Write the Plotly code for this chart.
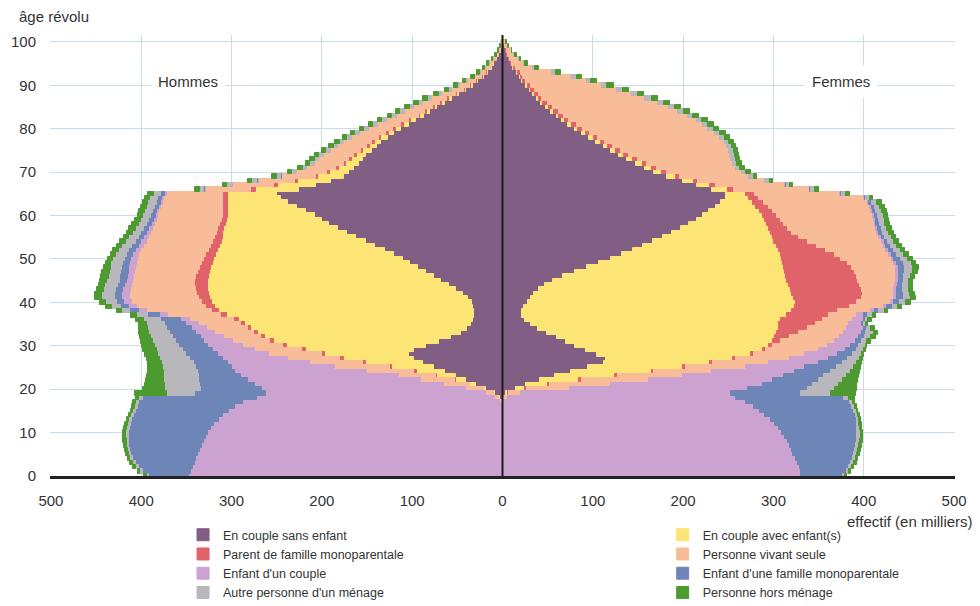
import plotly.graph_objects as go

FONT = "Liberation Sans, Arial, sans-serif"

ages = list(range(0, 101))

categories = [
    "En couple sans enfant",
    "En couple avec enfant(s)",
    "Parent de famille monoparentale",
    "Personne vivant seule",
    "Enfant d'un couple",
    "Enfant d'une famille monoparentale",
    "Autre personne d'un ménage",
    "Personne hors ménage",
]

colors = ["#815E83", "#FCE475", "#E0636A", "#F9BC98",
          "#CCA2D0", "#6E86B7", "#B8B8BC", "#4C9A30"]

# ---- Hommes (thousands), ages 0..100 ----
h_couple_sans = [0,0,0,0,0,0,0,0,0,0,
    0,0,0,0,0,0,0,1,3,8,
    18,29,40,52,64,76,88,98,103,98,
    85,70,57,46,39,35,33,32,32,33,
    34,38,44,51,59,68,76,85,94,102,
    110,120,130,141,151,162,172,182,192,200,
    208,218,228,237,245,250,225,207,190,176,
    170,164,159,155,151,145,139,134,127,120,
    112,104,96,87,80,72,64,56,48,40,
    33,27,21,16,12,9,6,4,2,1,
    1]
h_couple_avec = [0,0,0,0,0,0,0,0,0,0,
    0,0,0,0,0,0,0,0,1,1,
    3,7,12,20,31,46,63,78,93,120,
    154,183,206,225,239,250,259,273,282,285,
    288,286,281,275,267,258,249,239,229,219,
    209,197,185,172,160,148,137,126,114,105,
    96,86,76,67,59,54,48,42,36,28,
    21,17,14,12,10,9,8,7,7,6,
    6,5,5,4,4,3,3,3,2,2,
    2,1,1,1,1,1,0,0,0,0,
    0]
h_parent_mono = [0,0,0,0,0,0,0,0,0,0,
    0,0,0,0,0,0,0,0,0,0,
    0,0,1,2,3,3,4,4,4,4,
    4,4,4,4,4,4,5,7,8,10,
    11,12,13,13,14,14,14,13,12,12,
    12,11,10,10,9,8,7,7,7,6,
    6,6,5,5,5,5,5,4,4,3,
    3,3,3,3,3,3,3,3,3,3,
    3,3,2,2,2,2,2,2,2,1,
    1,1,1,1,0,0,0,0,0,0,
    0]
h_seul = [0,0,0,0,0,0,0,0,0,0,
    0,0,0,0,0,0,0,2,4,9,
    19,29,37,41,52,60,58,58,58,52,
    44,41,41,43,45,47,49,58,72,77,
    77,76,74,72,70,69,69,70,71,72,
    73,74,75,74,74,73,73,72,72,72,
    71,70,69,67,66,63,50,45,40,37,
    33,32,32,33,34,33,32,31,30,29,
    27,26,25,24,22,21,19,17,15,13,
    11,9,7,6,5,4,3,2,2,1,
    1]
h_enfant_couple = [347,345,343,341,339,337,335,333,331,328,
    326,323,319,314,309,303,296,284,264,244,
    226,209,192,175,146,115,91,71,57,47,
    39,32,26,21,17,14,10,9,8,8,
    9,9,9,9,8,7,7,7,7,7,
    7,7,6,6,6,6,5,4,3,3,
    3,2,2,2,2,2,1,1,1,0,
    0,0,0,0,0,0,0,0,0,0,
    0,0,0,0,0,0,0,0,0,0,
    0,0,0,0,0,0,0,0,0,0,
    0]
h_enfant_mono = [44,53,60,65,70,74,77,80,82,85,
    87,89,92,96,99,103,108,116,126,78,
    68,61,54,46,41,39,38,37,35,33,
    32,31,31,29,27,24,22,14,10,9,
    8,8,8,8,8,8,8,8,8,8,
    7,7,7,7,6,6,6,6,6,5,
    5,5,5,5,4,4,1,1,1,1,
    1,0,0,0,0,0,0,0,0,0,
    0,0,0,0,0,0,0,0,0,0,
    0,0,0,0,0,0,0,0,0,0,
    0]
h_autre = [3,3,3,3,3,3,3,3,3,4,
    4,4,4,3,3,3,3,3,4,32,
    40,39,39,39,38,37,35,33,31,29,
    27,26,24,23,22,20,19,12,9,10,
    12,14,14,13,14,14,13,13,13,13,
    13,12,12,11,11,10,9,9,9,9,
    9,9,9,9,9,8,5,5,5,5,
    5,5,5,5,5,5,5,5,5,5,
    5,5,5,5,5,4,4,4,3,3,
    2,2,1,1,1,1,1,0,0,0,
    0]
h_hors = [3,3,3,3,3,3,3,3,4,3,
    3,3,3,3,2,2,3,3,4,35,
    24,22,20,19,18,17,16,15,15,15,
    14,13,12,11,9,9,9,6,6,7,
    7,8,8,8,7,8,8,8,7,6,
    6,6,6,6,6,6,7,7,7,7,
    6,6,6,6,6,6,5,5,5,5,
    5,5,5,5,5,5,5,5,5,5,
    5,5,5,5,5,6,6,6,6,5,
    5,4,4,3,3,2,2,2,1,1,
    0]

# ---- Femmes (thousands), ages 0..100 ----
f_couple_sans = [0,0,0,0,0,0,0,0,0,0,
    0,0,0,0,0,0,0,0,2,4,
    15,26,42,58,76,95,112,115,105,92,
    80,70,60,49,39,31,25,22,22,24,
    28,31,35,40,47,56,67,80,94,107,
    120,132,144,156,167,178,188,198,207,215,
    222,229,236,242,247,248,232,215,200,182,
    168,158,148,138,129,120,112,104,96,88,
    80,73,66,60,54,48,43,38,34,30,
    26,22,19,16,12,9,7,5,4,3,
    2]
f_couple_avec = [0,0,0,0,0,0,0,0,0,0,
    0,0,0,0,0,0,0,0,0,2,
    10,24,43,67,89,105,118,140,170,196,
    215,229,242,255,267,275,283,293,298,300,
    297,292,286,279,270,259,247,233,218,204,
    190,176,162,148,134,121,109,97,86,76,
    66,56,45,35,26,22,18,15,12,10,
    9,8,7,7,6,6,5,5,5,4,
    4,4,3,3,3,3,2,2,2,2,
    2,1,1,1,1,0,0,0,0,0,
    0]
f_parent_mono = [0,0,0,0,0,0,0,0,0,0,
    0,0,0,0,0,0,0,0,0,1,
    2,3,3,3,3,3,3,3,4,4,
    5,9,16,24,32,41,47,47,52,61,
    68,75,78,79,79,79,78,77,75,71,
    65,60,52,44,37,29,24,21,19,17,
    16,15,14,13,11,10,6,6,5,5,
    5,5,5,5,5,5,5,5,5,5,
    5,5,5,5,5,5,5,4,4,4,
    4,3,3,3,2,2,1,1,1,0,
    0]
f_seul = [0,0,0,0,0,0,0,0,0,0,
    0,0,0,0,0,0,0,0,4,13,
    48,67,74,72,64,67,62,60,56,58,
    60,60,56,50,43,37,33,30,36,37,
    37,35,35,36,39,42,44,46,49,52,
    56,60,67,74,82,89,94,98,100,103,
    106,108,112,115,116,94,84,77,74,76,
    83,87,95,103,112,120,127,132,135,138,
    139,140,141,137,132,128,122,114,103,91,
    78,67,54,35,19,13,10,7,5,3,
    2]
f_enfant_couple = [331,330,329,327,325,322,320,318,316,313,
    310,306,302,297,291,285,278,270,253,233,
    197,168,138,112,92,65,55,44,37,30,
    26,23,21,20,19,14,12,8,4,4,
    4,4,3,3,3,3,3,3,3,3,
    3,3,3,3,3,3,2,2,2,2,
    2,2,2,1,1,1,1,1,1,1,
    0,0,0,0,0,0,0,0,0,0,
    0,0,0,0,0,0,0,0,0,0,
    0,0,0,0,0,0,0,0,0,0,
    0]
f_enfant_mono = [46,51,55,59,63,67,70,73,76,80,
    83,87,90,95,100,104,109,115,119,78,
    66,56,50,44,40,35,27,21,16,12,
    9,7,6,5,4,2,2,5,5,6,
    6,7,7,6,5,5,6,7,7,7,
    7,6,6,5,4,4,4,4,4,4,
    4,4,3,3,2,1,1,1,0,0,
    0,0,0,0,0,0,0,0,0,0,
    0,0,0,0,0,0,0,0,0,0,
    0,0,0,0,0,0,0,0,0,0,
    0]
f_autre = [2,3,3,3,3,4,4,4,4,4,
    4,3,3,3,3,3,3,3,6,33,
    30,29,27,25,22,19,16,13,10,8,
    7,6,7,8,4,3,3,5,6,6,
    7,8,7,7,7,6,7,8,9,9,
    8,8,7,7,7,7,7,6,6,6,
    6,6,6,6,4,4,4,3,4,4,
    5,5,5,5,5,5,5,5,5,6,
    6,6,6,6,7,7,7,7,7,6,
    6,5,5,4,2,1,1,1,0,0,
    0]
f_hors = [2,2,2,3,3,3,3,3,3,2,
    2,2,3,2,2,2,2,2,6,27,
    24,20,17,14,10,8,5,3,2,2,
    2,4,5,5,4,2,4,4,4,4,
    5,6,6,5,4,4,5,6,6,5,
    5,5,5,5,5,5,5,5,5,5,
    5,6,6,5,3,5,4,4,4,4,
    5,5,5,5,5,5,5,5,6,6,
    6,6,6,7,7,7,7,7,7,7,
    7,7,6,6,4,3,2,2,1,1,
    1]

x_tickvals = [-500, -400, -300, -200, -100, 0, 100, 200, 300, 400, 500]
x_ticktext = ["500", "400", "300", "200", "100", "0", "100", "200", "300", "400", "500"]
y_tickvals = [0, 10, 20, 30, 40, 50, 60, 70, 80, 90, 100]

men_series = [h_couple_sans, h_couple_avec, h_parent_mono, h_seul,
              h_enfant_couple, h_enfant_mono, h_autre, h_hors]
women_series = [f_couple_sans, f_couple_avec, f_parent_mono, f_seul,
                f_enfant_couple, f_enfant_mono, f_autre, f_hors]
legend_of = ["legend", "legend2", "legend", "legend2",
             "legend", "legend2", "legend", "legend2"]

fig = go.Figure()
for cat, col, men, women, lg in zip(categories, colors, men_series, women_series, legend_of):
    fig.add_trace(go.Bar(
        y=ages, x=[-v for v in men], orientation="h", name=cat,
        marker=dict(color=col, line=dict(color=col, width=1)),
        legendgroup=cat, legend=lg, showlegend=True,
        customdata=men, hovertemplate="Hommes %{y} ans: %{customdata}<extra>" + cat + "</extra>"))
    fig.add_trace(go.Bar(
        y=ages, x=women, orientation="h", name=cat,
        marker=dict(color=col, line=dict(color=col, width=1)),
        legendgroup=cat, legend=lg, showlegend=False,
        hovertemplate="Femmes %{y} ans: %{x}<extra>" + cat + "</extra>"))

grid_col = "#C9DCEE"
txt = "#333333"
fig.update_layout(
    width=972, height=598,
    margin=dict(l=42, r=25, t=27, b=130, autoexpand=False),
    paper_bgcolor="white", plot_bgcolor="white",
    barmode="relative", bargap=0,
    font=dict(family=FONT, color=txt, size=14),
    xaxis=dict(range=[-501, 501], tickvals=x_tickvals, ticktext=x_ticktext,
               showgrid=True, gridcolor=grid_col, gridwidth=1, zeroline=False,
               showline=True, linecolor="#222222", linewidth=2.5,
               ticks="outside", ticklen=9, tickcolor="rgba(0,0,0,0)",
               tickfont=dict(size=15, family=FONT, color=txt),
               automargin=False, fixedrange=True),
    yaxis=dict(range=[0, 101.6], tickvals=y_tickvals,
               showgrid=True, gridcolor=grid_col, gridwidth=1, zeroline=False,
               showline=False, ticks="outside", ticklen=10, tickcolor="rgba(0,0,0,0)",
               tickfont=dict(size=15, family=FONT, color=txt),
               automargin=False, fixedrange=True),
    legend=dict(x=0.147, y=-0.1, xanchor="left", yanchor="top",
                orientation="v", tracegroupgap=0, itemwidth=30,
                bgcolor="rgba(0,0,0,0)", font=dict(size=12.5, family=FONT, color=txt)),
    legend2=dict(x=0.677, y=-0.1, xanchor="left", yanchor="top",
                 orientation="v", tracegroupgap=0, itemwidth=30,
                 bgcolor="rgba(0,0,0,0)", font=dict(size=12.5, family=FONT, color=txt)),
    shapes=[dict(type="line", xref="x", yref="y", x0=0, x1=0, y0=0, y1=101.6,
                 line=dict(color="#1a1a1a", width=2), layer="above")],
    annotations=[
        dict(text="âge révolu", xref="paper", yref="paper", x=-0.036, y=1.041,
             xanchor="left", yanchor="middle", showarrow=False,
             font=dict(size=15, family=FONT, color=txt)),
        dict(text="Hommes", xref="x", yref="y", x=-348, y=91,
             xanchor="center", yanchor="middle", showarrow=False,
             bgcolor="white", borderpad=7,
             font=dict(size=15, family=FONT, color=txt)),
        dict(text="Femmes", xref="x", yref="y", x=375, y=91,
             xanchor="center", yanchor="middle", showarrow=False,
             bgcolor="white", borderpad=7,
             font=dict(size=15, family=FONT, color=txt)),
        dict(text="effectif (en milliers)", xref="paper", yref="paper", x=1.022, y=-0.104,
             xanchor="right", yanchor="middle", showarrow=False,
             font=dict(size=15, family=FONT, color=txt)),
    ],
)

fig.write_html("out.html")
